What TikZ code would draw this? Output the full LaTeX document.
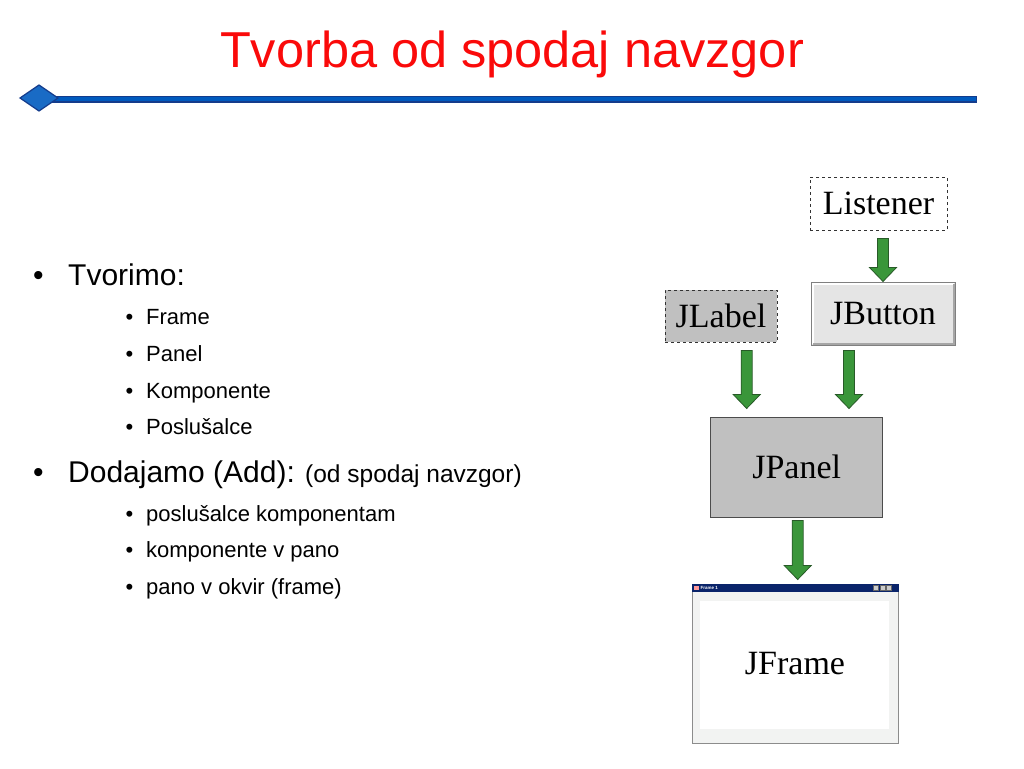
\documentclass[tikz,border=0pt]{standalone}
\usepackage{fontspec}
\setmainfont{Liberation Sans}
\newfontfamily\boxfont{Liberation Serif}
\usetikzlibrary{calc,positioning}
\definecolor{titlered}{RGB}{250,10,10}
\definecolor{ruleblue}{RGB}{0,90,190}
\definecolor{ruledark}{RGB}{20,60,140}
\definecolor{arrowgreen}{RGB}{58,150,58}
\definecolor{arrowdark}{RGB}{40,90,40}
\definecolor{panelgray}{RGB}{192,192,192}
\definecolor{navybar}{RGB}{10,36,106}

\tikzset{
  topitem/.style={anchor=base west,inner sep=0pt,font=\fontsize{30}{36}\selectfont},
  subitem/.style={anchor=base west,inner sep=0pt,font=\fontsize{22}{26}\selectfont},
  compbox/.style={inner sep=0pt,font=\boxfont\fontsize{34}{40}\selectfont},
  fatarrow/.style={fill=arrowgreen,draw=arrowdark,line width=0.8pt,line join=miter}
}
% fat green arrow between two named coordinates (top to bottom)
\newcommand\fatdown[2]{%
  \filldraw[fatarrow] ($(#1)+(-5.5,0)$) -- ($(#2)+(-5.5,-14)$) -- ($(#2)+(-13.5,-14)$)
    -- (#2) -- ($(#2)+(13.5,-14)$) -- ($(#2)+(5.5,-14)$) -- ($(#1)+(5.5,0)$) -- cycle;}

\begin{document}
\begin{tikzpicture}[x=1pt,y=-1pt]
\useasboundingbox[fill=white] (0,0) rectangle (1024,768);

% title and rule
\node[text=titlered,font=\fontsize{50.5}{58}\selectfont,anchor=base,inner sep=0pt](title)at(512,67){Tvorba od spodaj navzgor};
\draw[line width=7pt,ruledark](40,99)--(977,99);
\draw[line width=4pt,ruleblue](40,99)--(976,99);
\filldraw[fill=ruleblue!90!white,draw=ruledark,line width=1.2pt](20,98)--(39,85)--(58,98)--(39,111)--cycle;

% bullets
\node[topitem](b1)at(33,285){\textbullet};
\node[topitem](t1)at(68,285){Tvorimo:};
\foreach \txt/\yy in {Frame/324,Panel/361,Komponente/398,Poslušalce/434}{
  \node[subitem]at(146,\yy){\llap{\textbullet\hspace{13pt}}\txt};
}
\node[topitem](b2)at(33,482){\textbullet};
\node[topitem](t2)at(68,482){Dodajamo (Add):};
\node[subitem,font=\fontsize{24.5}{28}\selectfont](t2b)at(305,482){(od spodaj navzgor)};
\foreach \txt/\yy in {poslušalce komponentam/521,komponente v pano/557,pano v okvir (frame)/594}{
  \node[subitem]at(146,\yy){\llap{\textbullet\hspace{13pt}}\txt};
}

% component boxes
\node[compbox,draw=black!80,dashed,line width=0.8pt,fill=white,minimum width=137pt,minimum height=53pt](lis)at(878.5,203.5){Listener};
\node[compbox,draw=black!50,line width=1pt,fill=black!10,minimum width=144pt,minimum height=63pt](btn)at(883,313.5){};
\draw[white,line width=2pt]([shift={(2,-2)}]btn.south west)--([shift={(2,2)}]btn.north west)--([shift={(-2,2)}]btn.north east);
\draw[black!35,line width=2pt]([shift={(-2,2)}]btn.north east)--([shift={(-2,-2)}]btn.south east)--([shift={(2,-2)}]btn.south west);
\node[compbox]at(btn){JButton};
\node[compbox,draw=black!80,dashed,line width=0.8pt,fill=panelgray,minimum width=112pt,minimum height=52pt](lbl)at(721,316){JLabel};
\node[compbox,draw=black!70,line width=1pt,fill=panelgray,minimum width=172pt,minimum height=100pt](pnl)at(796.7,467){JPanel};

% frame window
\node[draw=black!45,line width=1pt,fill=green!3!black!5,minimum width=206pt,minimum height=159pt,inner sep=0pt](frm)at(795,663.5){};
\fill[navybar](frm.north west)rectangle([yshift=-8pt]frm.north east);
\fill[white]([shift={(8,17)}]frm.north west)rectangle([shift={(-10,-15)}]frm.south east);
\fill[red!40!white]([shift={(2,2)}]frm.north west)rectangle([shift={(7,6.5)}]frm.north west);
\node[anchor=west,inner sep=0pt,text=white,font=\fontsize{4.5}{5}\selectfont\bfseries]at([shift={(9,4.2)}]frm.north west){Frame 1};
\foreach \dx in {-20,-13.5,-7}{
  \filldraw[fill=black!20,draw=black!60,line width=0.3pt]([shift={(\dx-5,1.5)}]frm.north east)rectangle([shift={(\dx,6.5)}]frm.north east);
}
\node[compbox]at(795,664){JFrame};

% arrows
\coordinate(a1s)at($(lis.south)+(4.5,8)$);
\coordinate(a1e)at(a1s|-btn.north);
\coordinate(a2s)at($(lbl.south)+(25.7,8)$);
\coordinate(a2e)at($(a2s|-pnl.north)+(0,-8)$);
\coordinate(a3s)at($(btn.south)+(-34,5)$);
\coordinate(a3e)at($(a3s|-pnl.north)+(0,-8)$);
\coordinate(a4s)at($(pnl.south)+(1,3)$);
\coordinate(a4e)at($(a4s|-frm.north)+(0,-4)$);
\fatdown{a1s}{a1e}
\fatdown{a2s}{a2e}
\fatdown{a3s}{a3e}
\fatdown{a4s}{a4e}
\end{tikzpicture}
\end{document}
